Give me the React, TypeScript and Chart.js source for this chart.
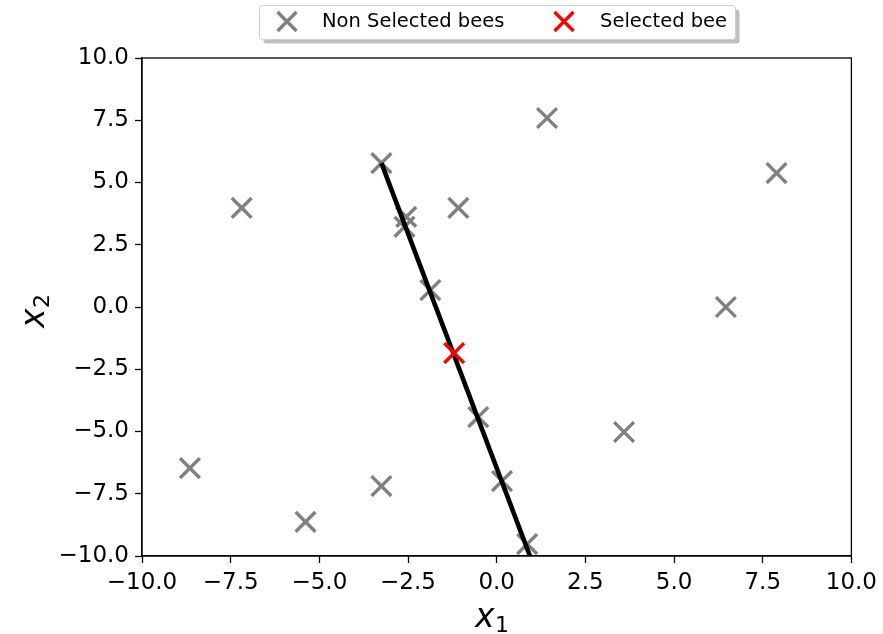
import React, { useEffect, useRef } from "react";
import { Chart, registerables } from "chart.js";

Chart.register(...registerables);

// Bee positions in the (x1, x2) search space
const nonSelectedX = [-3.25, -7.19, 1.42, 7.89, -2.55, -2.6, -1.08, -1.87, 6.46, -0.52, 3.59, -8.65, -3.25, 0.15, -5.39, 0.86];
const nonSelectedY = [5.78, 3.98, 7.59, 5.38, 3.62, 3.22, 3.98, 0.68, 0.0, -4.42, -5.02, -6.47, -7.19, -6.99, -8.63, -9.52];
const selectedX = [-1.2];
const selectedY = [-1.85];

// Search direction through the selected bee
const pathX = [-3.25, 1.07];
const pathY = [5.78, -10.5];

const axisMin = -10;
const axisMax = 10;
const axisStep = 2.5;

const legendLabels = ["Non Selected bees", "Selected bee"];
const legendColors = ["#808080", "#ff0000"];

const FONT = "'DejaVu Sans', sans-serif";

const toPoints = (xs: number[], ys: number[]) => xs.map((x, i) => ({ x, y: ys[i] }));

const fmtTick = (v: number | string) => Number(v).toFixed(1).replace("-", "\u2212");

function drawCross(ctx: CanvasRenderingContext2D, cx: number, cy: number, half: number, color: string) {
  ctx.save();
  ctx.strokeStyle = color;
  ctx.lineWidth = 3.4;
  ctx.beginPath();
  ctx.moveTo(cx - half, cy - half);
  ctx.lineTo(cx + half, cy + half);
  ctx.moveTo(cx - half, cy + half);
  ctx.lineTo(cx + half, cy - half);
  ctx.stroke();
  ctx.restore();
}

const framePlugin = {
  id: "frame",
  afterDraw(chart: any) {
    const { ctx, chartArea: a } = chart;
    ctx.save();
    ctx.strokeStyle = "#000";
    ctx.lineWidth = 1.3;
    ctx.strokeRect(a.left, a.top, a.right - a.left, a.bottom - a.top);
    ctx.restore();
  },
};

const axisTitlePlugin = {
  id: "axisTitles",
  afterDraw(chart: any) {
    const { ctx } = chart;
    ctx.save();
    ctx.fillStyle = "#000";
    ctx.textBaseline = "alphabetic";
    // x1 under the horizontal axis
    ctx.font = `oblique 33px ${FONT}`;
    ctx.textAlign = "left";
    ctx.fillText("x", 475, 627);
    ctx.font = `22px ${FONT}`;
    ctx.fillText("1", 495, 632);
    // x2 beside the vertical axis, rotated
    ctx.translate(44, 328);
    ctx.rotate(-Math.PI / 2);
    ctx.font = `oblique 33px ${FONT}`;
    ctx.fillText("x", 0, 0);
    ctx.font = `22px ${FONT}`;
    ctx.fillText("2", 20, 5);
    ctx.restore();
  },
};

const legendPlugin = {
  id: "boxLegend",
  afterDraw(chart: any) {
    const { ctx } = chart;
    const left = 259.5;
    const top = 5.5;
    const w = 476;
    const h = 34;
    const r = 3;
    const rr = (x: number, y: number) => {
      ctx.beginPath();
      ctx.roundRect(x, y, w, h, r);
    };
    ctx.save();
    // drop shadow
    rr(left + 4, top + 4);
    ctx.fillStyle = "rgba(0,0,0,0.25)";
    ctx.fill();
    rr(left, top);
    ctx.fillStyle = "#fff";
    ctx.fill();
    ctx.strokeStyle = "#cccccc";
    ctx.lineWidth = 1;
    ctx.stroke();

    const markerX = [287, 564];
    const textX = [322, 600];
    ctx.font = `19.5px ${FONT}`;
    ctx.fillStyle = "#000";
    ctx.textBaseline = "middle";
    ctx.textAlign = "left";
    legendLabels.forEach((label, i) => {
      drawCross(ctx, markerX[i], 21.5, 9.5, legendColors[i]);
      ctx.fillText(label, textX[i], 22);
    });
    ctx.restore();
  },
};

export default function App() {
  const canvasRef = useRef<HTMLCanvasElement | null>(null);

  useEffect(() => {
    document.body.style.margin = "0";
    const canvas = canvasRef.current;
    if (!canvas) return;

    const axisCommon = (fit: (s: any) => void) => ({
      type: "linear" as const,
      min: axisMin,
      max: axisMax,
      afterFit: fit,
      ticks: {
        stepSize: axisStep,
        color: "#000",
        padding: 6,
        font: { family: FONT, size: 23 },
        callback: (v: number | string) => fmtTick(v),
      },
      grid: {
        display: true,
        drawOnChartArea: false,
        drawTicks: true,
        tickLength: 7,
        tickWidth: 1.3,
        color: "#000",
      },
      border: { display: true, color: "#000", width: 1.3 },
      title: { display: false },
    });

    const chart = new Chart(canvas, {
      type: "scatter",
      data: {
        datasets: [
          {
            label: legendLabels[0],
            data: toPoints(nonSelectedX, nonSelectedY),
            pointStyle: "crossRot",
            pointRadius: 14,
            pointBorderWidth: 3.4,
            borderColor: legendColors[0],
            backgroundColor: legendColors[0],
            order: 3,
          },
          {
            type: "line",
            label: "path",
            data: toPoints(pathX, pathY),
            borderColor: "#000",
            borderWidth: 4.6,
            pointRadius: 0,
            showLine: true,
            fill: false,
            clip: 0,
            order: 2,
          } as any,
          {
            label: legendLabels[1],
            data: toPoints(selectedX, selectedY),
            pointStyle: "crossRot",
            pointRadius: 14,
            pointBorderWidth: 3.4,
            borderColor: legendColors[1],
            backgroundColor: legendColors[1],
            order: 1,
          },
        ],
      },
      options: {
        responsive: false,
        animation: false,
        layout: { padding: { left: 0, top: 58, right: 30, bottom: 0 } },
        plugins: {
          legend: { display: false },
          tooltip: { enabled: false },
        },
        scales: {
          x: axisCommon((s: any) => { s.height = 78; }),
          y: axisCommon((s: any) => { s.width = 142; }),
        },
      },
      plugins: [framePlugin, axisTitlePlugin, legendPlugin],
    });

    return () => chart.destroy();
  }, []);

  return (
    <div style={{ position: "fixed", left: 0, top: 0, width: 883, height: 634 }}>
      <canvas ref={canvasRef} width={883} height={634} style={{ display: "block" }} />
    </div>
  );
}
